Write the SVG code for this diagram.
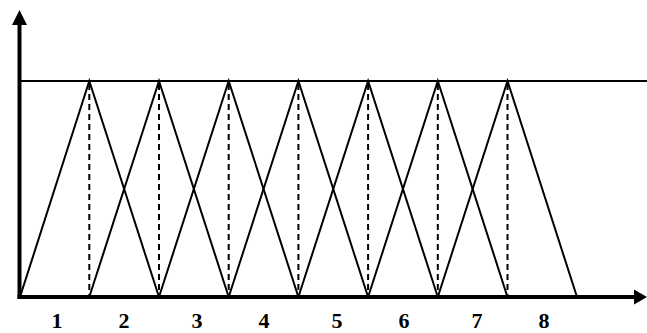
<svg xmlns="http://www.w3.org/2000/svg" width="647" height="333" viewBox="0 0 647 333">
<style>
.tri{fill:none;stroke:#000;stroke-width:2;stroke-linejoin:miter}
.dash{stroke:#000;stroke-width:2;stroke-dasharray:6,4}
.axis{stroke:#000;stroke-width:4}
.lbl{font-family:"Liberation Serif",serif;font-weight:bold;font-size:22px;text-anchor:middle;fill:#000}
</style>
<rect width="647" height="333" fill="#fff"/>
<g id="connectors">
<line x1="20" y1="81" x2="647" y2="81" stroke="#000" stroke-width="2"/>
<g id="dashes">
<line class="dash" x1="89.3" y1="84" x2="89.3" y2="296"/>
<line class="dash" x1="159" y1="84" x2="159" y2="296"/>
<line class="dash" x1="228.7" y1="84" x2="228.7" y2="296"/>
<line class="dash" x1="298.4" y1="84" x2="298.4" y2="296"/>
<line class="dash" x1="368.1" y1="84" x2="368.1" y2="296"/>
<line class="dash" x1="437.8" y1="84" x2="437.8" y2="296"/>
<line class="dash" x1="507.5" y1="84" x2="507.5" y2="296"/>
</g>
<g id="triangles">
<polyline class="tri" points="20,297 89.3,81 159,297"/>
<polyline class="tri" points="89.3,297 159,81 228.7,297"/>
<polyline class="tri" points="159,297 228.7,81 298.4,297"/>
<polyline class="tri" points="228.7,297 298.4,81 368.1,297"/>
<polyline class="tri" points="298.4,297 368.1,81 437.8,297"/>
<polyline class="tri" points="368.1,297 437.8,81 507.5,297"/>
<polyline class="tri" points="437.8,297 507.5,81 577,297"/>
</g>
<g id="axes">
<line class="axis" x1="19.5" y1="299" x2="19.5" y2="24"/>
<polygon points="19.5,10 12,25 27,25" fill="#000"/>
<line class="axis" x1="17.5" y1="297" x2="636" y2="297"/>
<polygon points="647,297 634,289.5 634,304.5" fill="#000"/>
</g>
</g>
<g id="labels">
<text class="lbl" x="57" y="327.5">1</text>
<text class="lbl" x="124" y="327.5">2</text>
<text class="lbl" x="197" y="327.5">3</text>
<text class="lbl" x="264" y="327.5">4</text>
<text class="lbl" x="337" y="327.5">5</text>
<text class="lbl" x="404" y="327.5">6</text>
<text class="lbl" x="477" y="327.5">7</text>
<text class="lbl" x="544" y="327.5">8</text>
</g>
</svg>
